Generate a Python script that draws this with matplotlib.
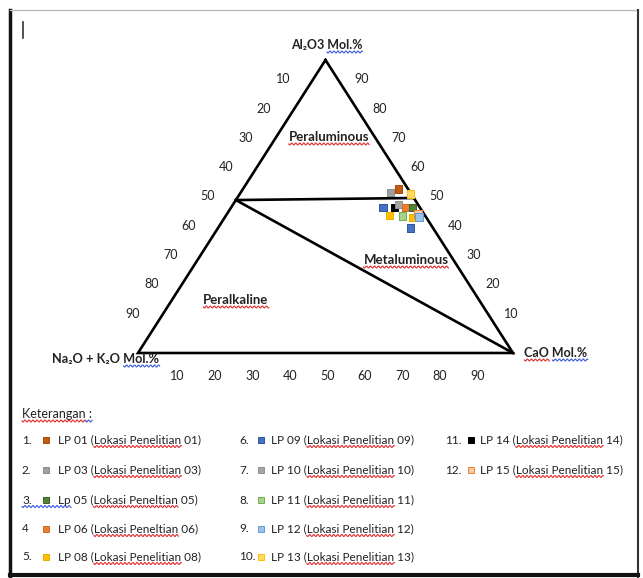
import numpy as np
import matplotlib
matplotlib.use("Agg")
import matplotlib.pyplot as plt
from matplotlib.lines import Line2D
from matplotlib.transforms import IdentityTransform

W, H = 643, 578
plt.rcParams['font.family'] = ['Lato', 'DejaVu Sans']

# sample points (mol %)
pt_lp = ['LP 01', 'LP 03', 'LP 13', 'LP 09', 'LP 14', 'LP 10', 'LP 06', 'LP 05',
         'LP 08', 'LP 11', 'LP 08', 'LP 15', 'LP 12', 'LP 09']
al2o3 = [56.0, 54.8, 54.3, 49.7, 49.7, 50.6, 49.7, 49.7, 47.0, 46.7, 46.3, 47.4, 46.4, 42.7]
cao = [41.5, 39.9, 45.5, 40.5, 43.6, 44.2, 46.4, 48.4, 43.6, 47.2, 50.0, 51.0, 51.7, 51.3]
nak = [2.5, 5.3, 0.2, 9.8, 6.7, 5.2, 3.9, 1.9, 9.4, 6.1, 3.7, 1.6, 1.9, 6.0]

# legend
leg_no = ['1.', '2.', '3.', '4', '5.', '6.', '7.', '8.', '9.', '10.', '11.', '12.']
leg_lp = ['LP 01', 'LP 03', 'Lp 05', 'LP 06', 'LP 08', 'LP 09', 'LP 10', 'LP 11',
          'LP 12', 'LP 13', 'LP 14', 'LP 15']
leg_desc = ['(Lokasi Penelitian 01)', '(Lokasi Penelitian 03)', '(Lokasi Peneltian 05)',
            '(Lokasi Peneltian 06)', '(Lokasi Penelitian 08)', '(Lokasi Penelitian 09)',
            '(Lokasi Penelitian 10)', '(Lokasi Penelitian 11)', '(Lokasi Penelitian 12)',
            '(Lokasi Penelitian 13)', '(Lokasi Penelitian 14)', '(Lokasi Penelitian 15)']
face = {'LP 01': '#c55a11', 'LP 03': '#a0a0a0', 'Lp 05': '#548235', 'LP 05': '#548235',
        'LP 06': '#ed7d31', 'LP 08': '#ffc000', 'LP 09': '#4472c4', 'LP 10': '#a5a5a5',
        'LP 11': '#a9d18e', 'LP 12': '#9dc3e6', 'LP 13': '#ffd966', 'LP 14': '#000000',
        'LP 15': '#f8cbad'}
edge = {'LP 01': '#a04a0e', 'LP 03': '#8c8c8c', 'Lp 05': '#3f6228', 'LP 05': '#3f6228',
        'LP 06': '#d46a20', 'LP 08': '#e6ad00', 'LP 09': '#2f5597', 'LP 10': '#909090',
        'LP 11': '#70ad47', 'LP 12': '#5b9bd5', 'LP 13': '#ffc000', 'LP 14': '#000000',
        'LP 15': '#ed7d31'}
ticks = [10, 20, 30, 40, 50, 60, 70, 80, 90]

fig = plt.figure(figsize=(W / 100, H / 100), dpi=100)
ax = fig.add_axes([138 / W, 1 - 353 / H, 375 / W, 293 / H])
ax.set_xlim(0, 1)
ax.set_ylim(0, 1)
ax.axis('off')


def tern(al, ca, nk):
    al, ca, nk = (np.asarray(v, dtype=float) for v in (al, ca, nk))
    s = al + ca + nk
    return ca / s + 0.5 * al / s, al / s


def fpx(x, y):
    return x / W, 1 - y / H


def squiggle(x0, x1, y, color):
    xs = np.arange(x0, x1 + 0.5, 0.5)
    ys = y + 1.0 * np.sin((xs - x0) * 2 * np.pi / 4)
    fig.add_artist(Line2D(xs, H - ys, transform=IdentityTransform(), color=color, lw=0.8))


# triangle + field boundaries
tx, ty = tern([100, 0, 0, 100], [0, 100, 0, 0], [0, 0, 100, 0])
ax.plot(tx, ty, color='black', lw=1.9, clip_on=False, solid_joinstyle='miter')
lx, ly = tern([52.2, 52.9], [0, 47.1], [47.8, 0])
ax.plot(lx, ly, color='black', lw=1.9, clip_on=False)
dx_, dy_ = tern([52.2, 0], [0, 100], [47.8, 0])
ax.plot(dx_, dy_, color='black', lw=1.9, clip_on=False)

# tick labels along the three sides
for v in ticks:
    ax.annotate(str(v), tern(100 - v, 0, v), xytext=(-24, 10), textcoords='offset pixels',
                ha='center', va='center', fontsize=9, color='#222222')
    ax.annotate(str(v), tern(v, 100 - v, 0), xytext=(17, 10), textcoords='offset pixels',
                ha='center', va='center', fontsize=9, color='#222222')
    ax.annotate(str(v), tern(0, v, 100 - v), xytext=(2, -23), textcoords='offset pixels',
                ha='center', va='center', fontsize=9, color='#222222')

# apex titles
t_al = ax.annotate('Al₂O3 Mol.%', tern(100, 0, 0), xytext=(1, 15), textcoords='offset pixels',
                   ha='center', va='center', fontsize=9, fontweight='bold', color='#222222')
t_na = ax.annotate('Na₂O + K₂O Mol.%', tern(0, 0, 100), xytext=(-32, -6), textcoords='offset pixels',
                   ha='center', va='center', fontsize=9.2, fontweight='bold', color='#222222')
t_ca = ax.annotate('CaO Mol.%', tern(0, 100, 0), xytext=(43, 0), textcoords='offset pixels',
                   ha='center', va='center', fontsize=9, fontweight='bold', color='#222222')

# field names
fields = [('Peraluminous', 329, 137), ('Metaluminous', 406, 260), ('Peralkaline', 236, 300)]
field_txt = []
for name, x, y in fields:
    field_txt.append(fig.text(*fpx(x, y), name, ha='center', va='center', fontsize=9.5,
                              fontweight='bold', color='#222222'))

# samples
px, py = tern(al2o3, cao, nak)
ax.scatter(px, py, marker='s', s=28, c=[face[k] for k in pt_lp],
           edgecolors=[edge[k] for k in pt_lp], linewidths=0.7, zorder=3, clip_on=False)

# legend block
kw = dict(fontsize=8.5, color='#222222', va='center', ha='left')
ket = fig.text(*fpx(22, 414), 'Keterangan :', fontsize=9, color='#222222', va='center', ha='left')
row_y = [440, 470, 500, 529, 557]
num_x = [22, 239, 445]
mark_x = [46, 261, 471]
text_x = [58, 271, 480]
leg_txt = []
for i, lp in enumerate(leg_lp):
    col, row = i // 5, i % 5
    y = row_y[row]
    fig.text(*fpx(num_x[col], y), leg_no[i], **kw)
    fig.add_artist(Line2D([mark_x[col] / W], [1 - y / H], marker='s', ms=4.5,
                          mfc=face[lp], mec=edge[lp], mew=0.7, transform=fig.transFigure))
    leg_txt.append(fig.text(*fpx(text_x[col], y), lp + ' ' + leg_desc[i], **kw))

# cursor mark and page frame
fig.add_artist(Line2D([22.5, 22.5], [H - 22, H - 38], transform=IdentityTransform(),
                      color='#333333', lw=1.2))
fig.add_artist(Line2D([10, 10], [H - 10, 0], transform=IdentityTransform(), color='#111111', lw=2.5))
fig.add_artist(Line2D([10, 638], [H - 10, H - 10], transform=IdentityTransform(), color='#bbbbbb', lw=1))
fig.add_artist(Line2D([638, 638], [H - 10, 0], transform=IdentityTransform(), color='#333333', lw=1.5))
fig.add_artist(Line2D([10, 638], [3, 3], transform=IdentityTransform(), color='#111111', lw=3))

# spell-check squiggles
fig.canvas.draw()
r = fig.canvas.get_renderer()


def width(s, ref):
    t = fig.text(0, 0, s, fontsize=ref.get_fontsize(), fontweight=ref.get_fontweight(),
                 family=ref.get_fontfamily())
    w = t.get_window_extent(r).width
    t.remove()
    return w


RED, BLUE = '#e03030', '#3b5bdb'
for t in field_txt:
    bb = t.get_window_extent(r)
    squiggle(bb.x0, bb.x1, H - bb.y0 + 1, RED)
for t, pre in [(t_al, 'Al₂O3 '), (t_na, 'Na₂O + K₂O '), (t_ca, 'CaO ')]:
    bb = t.get_window_extent(r)
    xs = bb.x0 + width(pre, t)
    squiggle(xs, bb.x1, H - bb.y0 + 1, BLUE)
bb = t_ca.get_window_extent(r)
squiggle(bb.x0, bb.x0 + width('CaO', t_ca), H - bb.y0 + 1, RED)
bb = ket.get_window_extent(r)
kw_ = bb.x0 + width('Keterangan', ket)
squiggle(bb.x0, kw_, H - bb.y0 + 1, RED)
squiggle(kw_, bb.x1, H - bb.y0 + 1, BLUE)
for i, t in enumerate(leg_txt):
    bb = t.get_window_extent(r)
    desc = leg_desc[i]
    a = bb.x0 + width(leg_lp[i] + ' (', t)
    b = bb.x0 + width(leg_lp[i] + ' ' + desc[:-4], t)
    squiggle(a, b, H - bb.y0 + 1, RED)
    if leg_lp[i] == 'Lp 05':
        squiggle(num_x[0], bb.x0 + width('Lp', t), H - bb.y0 + 1, BLUE)

fig.savefig('out.png', dpi=100)
